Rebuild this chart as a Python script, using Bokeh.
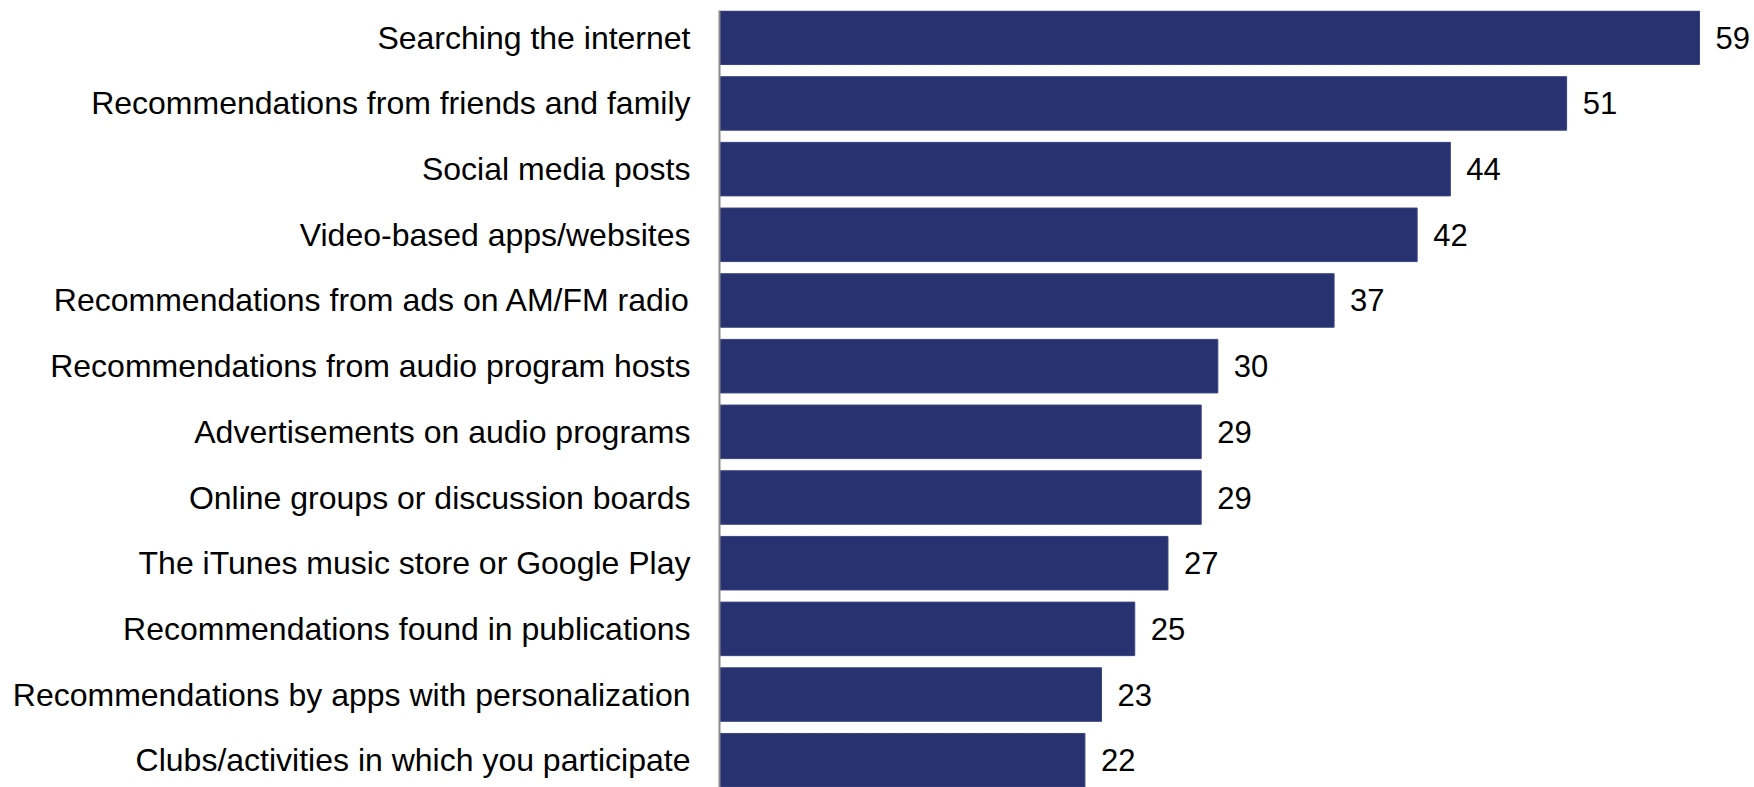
from bokeh.plotting import figure
from bokeh.models import FactorRange, ColumnDataSource, Range1d
from bokeh.core.properties import value
from bokeh.embed import file_html
from bokeh.resources import INLINE

categories = [
    "Searching the internet",
    "Recommendations from friends and family",
    "Social media posts",
    "Video-based apps/websites",
    "Recommendations from ads on AM/FM radio",
    "Recommendations from audio program hosts",
    "Advertisements on audio programs",
    "Online groups or discussion boards",
    "The iTunes music store or Google Play",
    "Recommendations found in publications",
    "Recommendations by apps with personalization",
    "Clubs/activities in which you participate",
]
values = [59, 51, 44, 42, 37, 30, 29, 29, 27, 25, 23, 22]

FONT = "Liberation Sans"
BAR = "#283270"

src = ColumnDataSource(dict(cat=categories, val=values, lab=[str(v) for v in values]))

yr = FactorRange(factors=list(reversed(categories)), range_padding=-0.01414)

p = figure(
    width=1754, height=787,
    y_range=yr, x_range=Range1d(0, 62.31),
    output_backend="svg", toolbar_location=None,
    min_border_left=719, min_border_right=0, min_border_top=10, min_border_bottom=0,
)

p.hbar(y="cat", right="val", left=0, height=0.815, source=src,
       fill_color=BAR, line_color="#3a4482", line_width=1)

p.text(x="val", y="cat", text="lab", source=src, x_offset=16,
       text_align="left", text_baseline="middle",
       text_font=value(FONT), text_font_size="31px", text_color="#000000")

p.xaxis.visible = False
p.xgrid.visible = False
p.ygrid.visible = False
p.outline_line_color = None

ax = p.yaxis[0]
ax.axis_line_color = "#8a8a8a"
ax.axis_line_width = 2
ax.major_tick_line_color = None
ax.minor_tick_line_color = None
ax.major_tick_out = 0
ax.major_tick_in = 0
ax.major_label_standoff = 29
ax.major_label_text_font = FONT
ax.major_label_text_font_size = "32px"
ax.major_label_text_color = "#000000"

p.background_fill_color = "white"
p.border_fill_color = "white"

open("out.html", "w").write(file_html(p, INLINE))
